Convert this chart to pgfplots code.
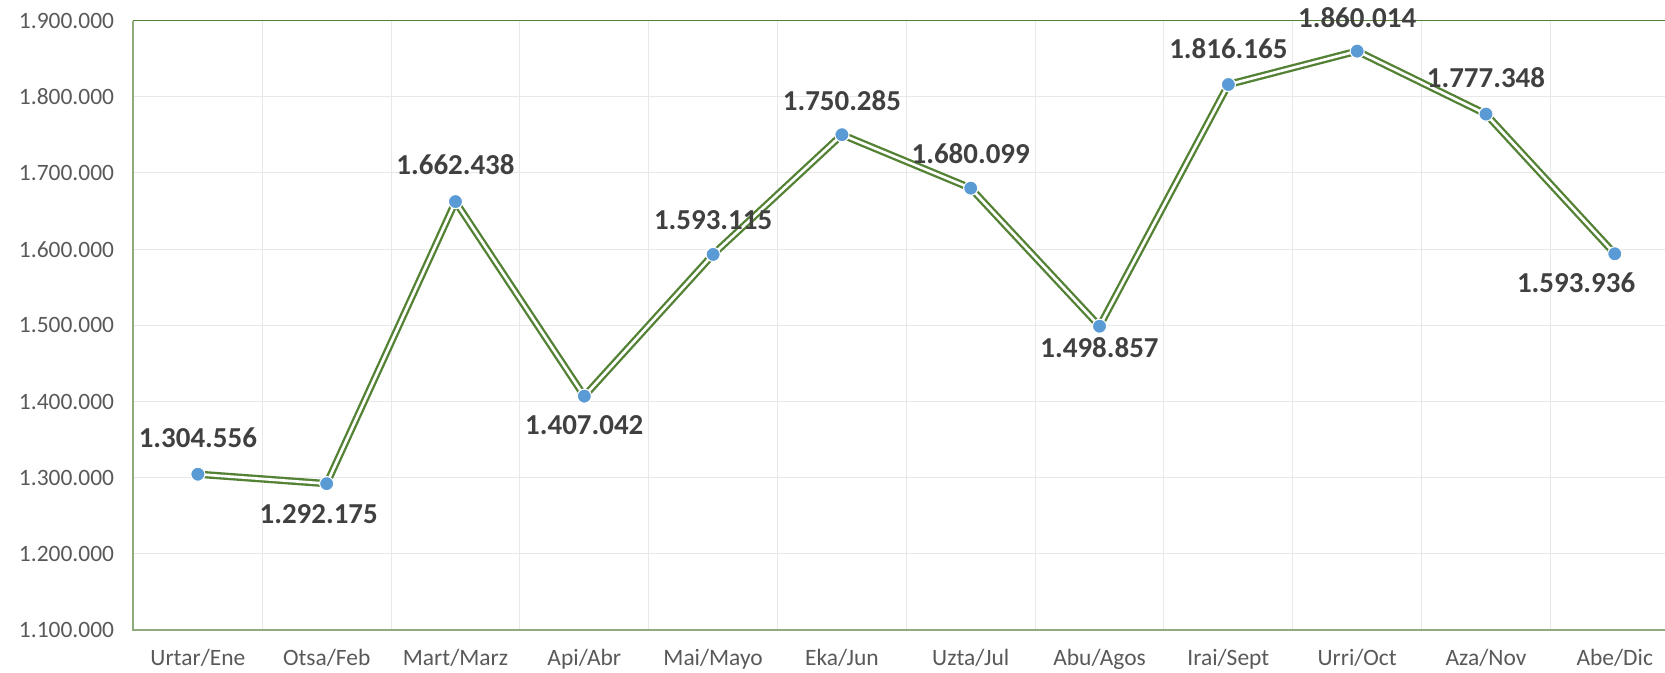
\documentclass[border=0pt]{standalone}
\usepackage{pgfplots}
\pgfplotsset{compat=1.18}
\usepackage{pgfplotstable}
\usepackage{fontspec}
\setmainfont{Carlito}
\definecolor{lgreen}{HTML}{548235}
\definecolor{axgreen}{HTML}{8FAA7C}
\definecolor{mblue}{HTML}{5B9BD5}
\definecolor{gridc}{HTML}{E8E8E8}
\definecolor{tickc}{HTML}{595959}
\definecolor{labc}{HTML}{404040}
\pgfplotstableread{
x y lab dy dx
0 1304556 1.304.556 27 0
1 1292175 1.292.175 -23 -6
2 1662438 1.662.438 27.5 0
3 1407042 1.407.042 -22 0
4 1593115 1.593.115 25.5 0
5 1750285 1.750.285 25.5 0
6 1680099 1.680.099 26 0
7 1498857 1.498.857 -16 0
8 1816165 1.816.165 27 0
9 1860014 1.860.014 25 0
10 1777348 1.777.348 27.5 0
11 1593936 1.593.936 -22 -29
}\data
\begin{document}
\begin{tikzpicture}
\begin{axis}[
  scale only axis, width=1148.6pt, height=457pt,
  xmin=-0.5, xmax=11.39, ymin=1100000, ymax=1900000,
  scaled y ticks=false,
  xtick={0,1,2,3,4,5,6,7,8,9,10,11},
  xticklabels={Urtar/Ene,Otsa/Feb,Mart/Marz,Api/Abr,Mai/Mayo,Eka/Jun,Uzta/Jul,Abu/Agos,Irai/Sept,Urri/Oct,Aza/Nov,Abe/Dic},
  minor xtick={0.5,1.5,2.5,3.5,4.5,5.5,6.5,7.5,8.5,9.5,10.5},
  ytick={1100000,1200000,1300000,1400000,1500000,1600000,1700000,1800000,1900000},
  yticklabels={1.100.000,1.200.000,1.300.000,1.400.000,1.500.000,1.600.000,1.700.000,1.800.000,1.900.000},
  ymajorgrids, xminorgrids,
  grid style={gridc, line width=0.75pt},
  minor grid style={gridc, line width=0.75pt},
  axis line style={draw=none},
  tick style={draw=none},
  ticklabel style={font=\fontsize{17.6}{20}\selectfont, text=tickc},
  yticklabel style={xshift=-11pt},
  xticklabel style={yshift=-11pt},
  clip=false,
]
\draw[axgreen, line width=1.5pt] (rel axis cs:0,1) -- (rel axis cs:0,0) -- (rel axis cs:1,0);
\draw[lgreen, line width=1pt] (rel axis cs:0,1) -- (rel axis cs:1,1);
\coordinate (bl) at (rel axis cs:0,0);
\coordinate (tr) at (rel axis cs:1,1);
\addplot[no marks, draw=lgreen, line width=1.75pt, double=white, double distance=2pt, line join=round] table[x=x,y=y]{\data};
\addplot[only marks, mark=*, mark size=5.3pt, mark options={fill=mblue, draw=white, line width=0.8pt},
  point meta=explicit symbolic,
  visualization depends on={\thisrow{dy} \as \dy},
  visualization depends on={\thisrow{dx} \as \dx},
  nodes near coords,
  every node near coord/.append style={anchor=center, yshift=\dy pt, xshift=\dx pt, font=\bfseries\fontsize{21.7}{24}\selectfont, text=labc},
] table[x=x,y=y,meta=lab]{\data};
\end{axis}
\pgfresetboundingbox
\path[use as bounding box] ([xshift=-100.1pt,yshift=-31.5pt]bl) rectangle ([yshift=15.5pt]tr);
\end{tikzpicture}
\end{document}
